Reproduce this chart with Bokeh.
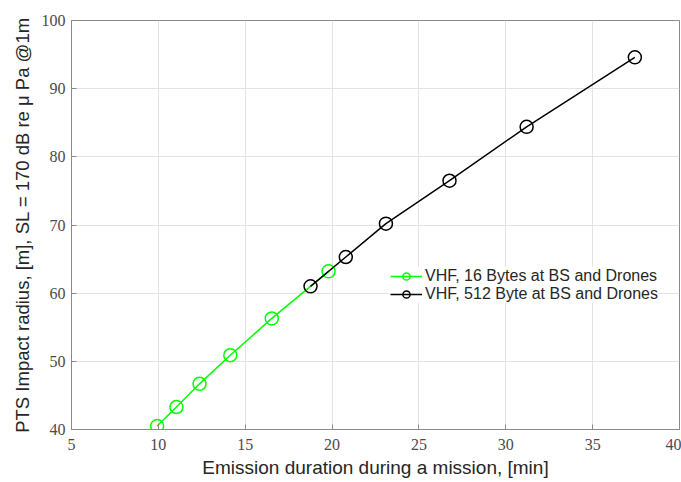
from bokeh.plotting import figure
from bokeh.models import Legend, LegendItem, Range1d, FixedTicker
from bokeh.embed import file_html
from bokeh.resources import INLINE

# Data
x_green = [9.93, 11.04, 12.37, 14.14, 16.53, 19.80]
y_green = [40.5, 43.3, 46.7, 50.9, 56.3, 63.2]
x_black = [18.76, 20.79, 23.10, 26.76, 31.20, 37.43]
y_black = [61.0, 65.3, 70.2, 76.5, 84.4, 94.6]
label_green = "VHF, 16 Bytes at BS and Drones"
label_black = "VHF, 512 Byte at BS and Drones"
x_ticks = [5, 10, 15, 20, 25, 30, 35, 40]
y_ticks = [40, 50, 60, 70, 80, 90, 100]

GREEN = "#00ff00"
BLACK = "#000000"
AXC = "#8a8a8a"
TICKC = "#4a4a4a"

p = figure(width=681, height=480, output_backend="svg", toolbar_location=None,
           x_range=Range1d(5, 40), y_range=Range1d(40, 100),
           min_border_left=71, min_border_right=2, min_border_top=20, min_border_bottom=50)
p.background_fill_color = "white"
p.border_fill_color = "white"
p.outline_line_color = AXC
p.outline_line_width = 1

for ax in (p.xaxis[0], p.yaxis[0]):
    ax.axis_line_color = AXC
    ax.major_tick_line_color = AXC
    ax.major_tick_in = 5
    ax.major_tick_out = 0
    ax.minor_tick_line_color = None
    ax.major_label_text_font = "Liberation Serif"
    ax.major_label_text_font_size = "16px"
    ax.major_label_text_color = TICKC
    ax.axis_label_text_font = "Liberation Sans"
    ax.axis_label_text_font_style = "normal"
    ax.axis_label_text_color = "#262626"

p.xaxis[0].axis_label_text_font_size = "19px"
p.yaxis[0].axis_label_text_font_size = "18.5px"
p.xaxis[0].ticker = FixedTicker(ticks=x_ticks)
p.yaxis[0].ticker = FixedTicker(ticks=y_ticks)
p.xaxis[0].axis_label = "Emission duration during a mission, [min]"
p.yaxis[0].axis_label = "PTS Impact radius, [m], SL = 170 dB re \u03bc Pa @1m"
p.xaxis[0].major_label_standoff = 9
p.yaxis[0].major_label_standoff = 6
p.xaxis[0].axis_label_standoff = 4
p.yaxis[0].axis_label_standoff = 6

p.xgrid.ticker = FixedTicker(ticks=x_ticks)
p.ygrid.ticker = FixedTicker(ticks=y_ticks)
p.xgrid.grid_line_color = "#e3e3e3"
p.ygrid.grid_line_color = "#e3e3e3"

gl = p.line(x_green, y_green, line_color=GREEN, line_width=1.5)
gm = p.scatter(x_green, y_green, marker="circle", size=13, fill_color=None,
               line_color=GREEN, line_width=1.5)
bl = p.line(x_black, y_black, line_color=BLACK, line_width=1.5)
bm = p.scatter(x_black, y_black, marker="circle", size=13, fill_color=None,
               line_color=BLACK, line_width=1.5)

legend = Legend(items=[LegendItem(label=label_green, renderers=[gl, gm]),
                       LegendItem(label=label_black, renderers=[bl, bm])],
                location=(319, 126))
legend.border_line_color = None
legend.background_fill_color = "white"
legend.background_fill_alpha = 1
legend.label_text_font = "Liberation Sans"
legend.label_text_font_size = "16px"
legend.label_text_color = "#262626"
legend.glyph_width = 32
legend.glyph_height = 18
legend.spacing = 0
legend.padding = 3
legend.margin = 0
legend.label_standoff = 3
legend.label_height = 18
p.add_layout(legend, "center")

open("out.html", "w").write(file_html(p, INLINE))
